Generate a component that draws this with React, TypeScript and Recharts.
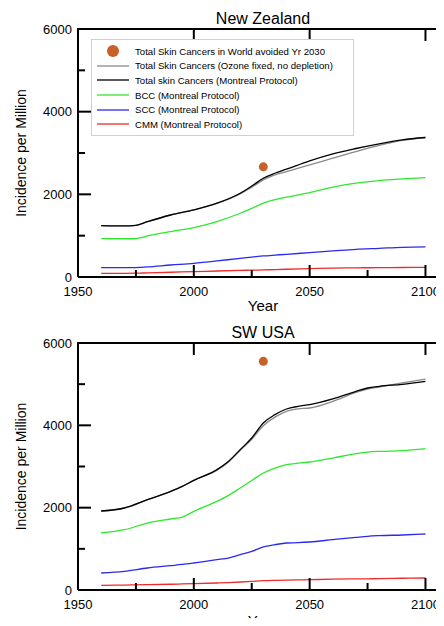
import React from "react";
import { ComposedChart, Line, Scatter, XAxis, YAxis } from "recharts";

// ---------- data ----------
const nzYears = [1960, 1970, 1975, 1980, 1990, 2000, 2010, 2020, 2025, 2030, 2035, 2040, 2050, 2060, 2070, 2080, 2090, 2100];
const nzTotalMP = [1243, 1235, 1250, 1340, 1500, 1623, 1785, 2027, 2200, 2390, 2510, 2608, 2810, 2980, 3109, 3222, 3319, 3375];
const nzTotalFixed = [1243, 1235, 1250, 1340, 1500, 1623, 1780, 2010, 2170, 2350, 2470, 2552, 2713, 2875, 3036, 3182, 3303, 3375];
const nzBCC = [929, 925, 930, 993, 1098, 1195, 1340, 1542, 1660, 1785, 1870, 1930, 2043, 2172, 2269, 2334, 2374, 2406];
const nzSCC = [226, 226, 228, 245, 290, 331, 388, 452, 480, 509, 530, 549, 590, 630, 670, 694, 719, 727];
const nzCMM = [89, 90, 92, 100, 115, 129, 145, 160, 165, 170, 180, 188, 202, 215, 222, 226, 230, 234];
const nzAvoided = [{ year: 2030, mp: 2665 }];

const usYears = [1960, 1970, 1980, 1990, 1995, 2000, 2010, 2015, 2020, 2025, 2030, 2035, 2040, 2045, 2050, 2060, 2070, 2075, 2080, 2090, 2100];
const usTotalMP = [1919, 1992, 2194, 2397, 2518, 2664, 2923, 3126, 3409, 3692, 4057, 4259, 4397, 4461, 4502, 4640, 4826, 4907, 4947, 4996, 5069];
const usTotalFixed = [1919, 1992, 2194, 2397, 2518, 2664, 2910, 3110, 3390, 3660, 3992, 4200, 4340, 4400, 4421, 4583, 4802, 4880, 4931, 5029, 5125];
const usBCC = [1385, 1465, 1627, 1725, 1773, 1911, 2154, 2300, 2478, 2660, 2842, 2963, 3044, 3080, 3109, 3206, 3312, 3350, 3368, 3384, 3433];
const usSCC = [413, 453, 534, 591, 620, 656, 737, 777, 858, 939, 1045, 1100, 1142, 1150, 1166, 1223, 1279, 1305, 1320, 1336, 1360];
const usCMM = [113, 120, 130, 140, 147, 154, 170, 180, 194, 210, 227, 235, 240, 245, 251, 262, 270, 272, 275, 285, 292];
const usAvoided = [{ year: 2030, mp: 5555 }];

const xTicks = [1950, 1975, 2000, 2025, 2050, 2075, 2100];
const xTopTicks = [2000, 2050, 2100];
const yTicks = [0, 1000, 2000, 3000, 4000, 5000, 6000];

const legendLabels = [
  "Total Skin Cancers in World avoided Yr 2030",
  "Total Skin Cancers (Ozone fixed, no depletion)",
  "Total skin Cancers (Montreal Protocol)",
  "BCC (Montreal Protocol)",
  "SCC (Montreal Protocol)",
  "CMM (Montreal Protocol)",
];

// ---------- styles ----------
const FONT = "'Liberation Sans', Arial, sans-serif";
const DOT = "#c8602a";
const C_FIXED = "#8a8a8a";
const C_MP = "#000000";
const C_BCC = "#2ee82e";
const C_SCC = "#2a2aee";
const C_CMM = "#ee2a2a";
const legendColors = [DOT, C_FIXED, C_MP, C_BCC, C_SCC, C_CMM];

const X_MIN = 1950;
const X_MAX = 2108;
const Y_MAX = 6000;
const PLOT_LEFT = 78;
const W = 444;

function buildRows(years: number[], a: number[], b: number[], c: number[], d: number[], e: number[]) {
  return years.map((year, i) => ({ year, mp: a[i], fixed: b[i], bcc: c[i], scc: d[i], cmm: e[i] }));
}

const XTick = (props: any) => {
  const { x, y, payload } = props;
  const v = Number(payload.value);
  const major = v % 50 === 0;
  return major ? (
    <text x={x} y={y + 19} textAnchor="middle" fontSize={13} fontFamily={FONT} fill="#000">
      {v}
    </text>
  ) : (
    <g />
  );
};

const YTick = (props: any) => {
  const { x, y, payload } = props;
  const v = Number(payload.value);
  const major = v % 2000 === 0;
  return major ? (
    <text x={x - 6} y={y + 4.5} textAnchor="end" fontSize={13} fontFamily={FONT} fill="#000">
      {v}
    </text>
  ) : (
    <g />
  );
};

const LegendBox = () => (
  <div
    style={{
      position: "absolute",
      left: 91,
      top: 39,
      width: 263,
      height: 97,
      border: "1px solid #d0d0d0",
      background: "#fff",
      boxSizing: "border-box",
      paddingTop: 4,
    }}
  >
    {legendLabels.map((lab, i) => (
      <div key={lab} style={{ height: 14.6, display: "flex", alignItems: "center" }}>
        <svg width={43} height={14} style={{ flex: "0 0 43px" }}>
          {i === 0 ? (
            <circle cx={21} cy={7} r={6} fill={legendColors[i]} />
          ) : (
            <line x1={5} x2={37} y1={7} y2={7} stroke={legendColors[i]} strokeWidth={1.3} />
          )}
        </svg>
        <span style={{ fontFamily: FONT, fontSize: 9.6, color: "#000", whiteSpace: "nowrap" }}>{lab}</span>
      </div>
    ))}
  </div>
);

function Panel(props: {
  title: string;
  rows: any[];
  avoided: { year: number; mp: number }[];
  height: number;
  top: number;
  bottom: number;
  yearDy: number;
  legend?: boolean;
}) {
  const { title, rows, avoided, height, top, bottom, yearDy, legend } = props;
  const plotBottom = height - bottom;
  const cy = (top + plotBottom) / 2;
  const sx = (v: number) => PLOT_LEFT + ((v - X_MIN) / (X_MAX - X_MIN)) * (W - PLOT_LEFT);
  const sy = (v: number) => plotBottom - (v / Y_MAX) * (plotBottom - top);
  return (
    <div style={{ position: "relative", width: W, height }}>
      <ComposedChart width={W} height={height} data={rows} margin={{ top, right: 0, bottom: 0, left: 0 }}>
        <XAxis
          dataKey="year"
          type="number"
          domain={[X_MIN, X_MAX]}
          ticks={xTicks}
          allowDataOverflow
          tick={<XTick />}
          tickLine={false}
          tickSize={0}
          tickMargin={0}
          axisLine={{ stroke: "#000", strokeWidth: 2 }}
          height={bottom}
          interval={0}
        />
        <YAxis
          type="number"
          domain={[0, Y_MAX]}
          ticks={yTicks}
          allowDataOverflow
          tick={<YTick />}
          tickLine={false}
          tickSize={0}
          tickMargin={0}
          axisLine={{ stroke: "#000", strokeWidth: 2 }}
          width={PLOT_LEFT}
          interval={0}
        />
        <Line dataKey="cmm" stroke={C_CMM} strokeWidth={1.3} dot={false} isAnimationActive={false} type="monotone" />
        <Line dataKey="scc" stroke={C_SCC} strokeWidth={1.3} dot={false} isAnimationActive={false} type="monotone" />
        <Line dataKey="bcc" stroke={C_BCC} strokeWidth={1.3} dot={false} isAnimationActive={false} type="monotone" />
        <Line dataKey="fixed" stroke={C_FIXED} strokeWidth={1.3} dot={false} isAnimationActive={false} type="monotone" />
        <Line dataKey="mp" stroke={C_MP} strokeWidth={1.3} dot={false} isAnimationActive={false} type="monotone" />
        <Scatter data={avoided} dataKey="mp" fill={DOT} isAnimationActive={false} />
      </ComposedChart>
      <svg
        width={W}
        height={height}
        style={{ position: "absolute", left: 0, top: 0, pointerEvents: "none", overflow: "visible" }}
        fontFamily={FONT}
      >
        {/* frame: top border */}
        <line x1={PLOT_LEFT - 1} x2={W} y1={top} y2={top} stroke="#000" strokeWidth={2} />
        {/* inward ticks on top border */}
        {xTopTicks.map((t) => (
          <line key={"tt" + t} x1={sx(t)} x2={sx(t)} y1={top} y2={top + 12} stroke="#000" strokeWidth={2} />
        ))}
        {/* inward ticks on bottom axis */}
        {xTicks
          .filter((t) => t !== X_MIN)
          .map((t) => (
            <line
              key={"bt" + t}
              x1={sx(t)}
              x2={sx(t)}
              y1={plotBottom}
              y2={plotBottom - (t % 50 === 0 ? 12 : 7)}
              stroke="#000"
              strokeWidth={2}
            />
          ))}
        {/* inward ticks on left axis */}
        {yTicks
          .filter((t) => t !== 0 && t !== Y_MAX)
          .map((t) => (
            <line
              key={"yt" + t}
              x1={PLOT_LEFT}
              x2={PLOT_LEFT + (t % 2000 === 0 ? 13 : 7)}
              y1={sy(t)}
              y2={sy(t)}
              stroke="#000"
              strokeWidth={2}
            />
          ))}
        <text x={263} y={top - 5} textAnchor="middle" fontSize={16} fill="#000">
          {title}
        </text>
        <text x={263} y={plotBottom + yearDy} textAnchor="middle" fontSize={15} fill="#000">
          Year
        </text>
        <text
          x={21}
          y={cy}
          textAnchor="middle"
          dominantBaseline="central"
          transform={`rotate(-90 21 ${cy})`}
          fontSize={14}
          fill="#000"
        >
          Incidence per Million
        </text>
      </svg>
      {legend && <LegendBox />}
    </div>
  );
}

export default function App() {
  const nzRows = buildRows(nzYears, nzTotalMP, nzTotalFixed, nzBCC, nzSCC, nzCMM);
  const usRows = buildRows(usYears, usTotalMP, usTotalFixed, usBCC, usSCC, usCMM);
  return (
    <div style={{ margin: -8, width: W, height: 626, overflow: "hidden", background: "#fff" }}>
      <Panel title="New Zealand" rows={nzRows} avoided={nzAvoided} height={310} top={29} bottom={33} yearDy={34} legend />
      <Panel title="SW USA" rows={usRows} avoided={usAvoided} height={316} top={33} bottom={36} yearDy={36} />
    </div>
  );
}
